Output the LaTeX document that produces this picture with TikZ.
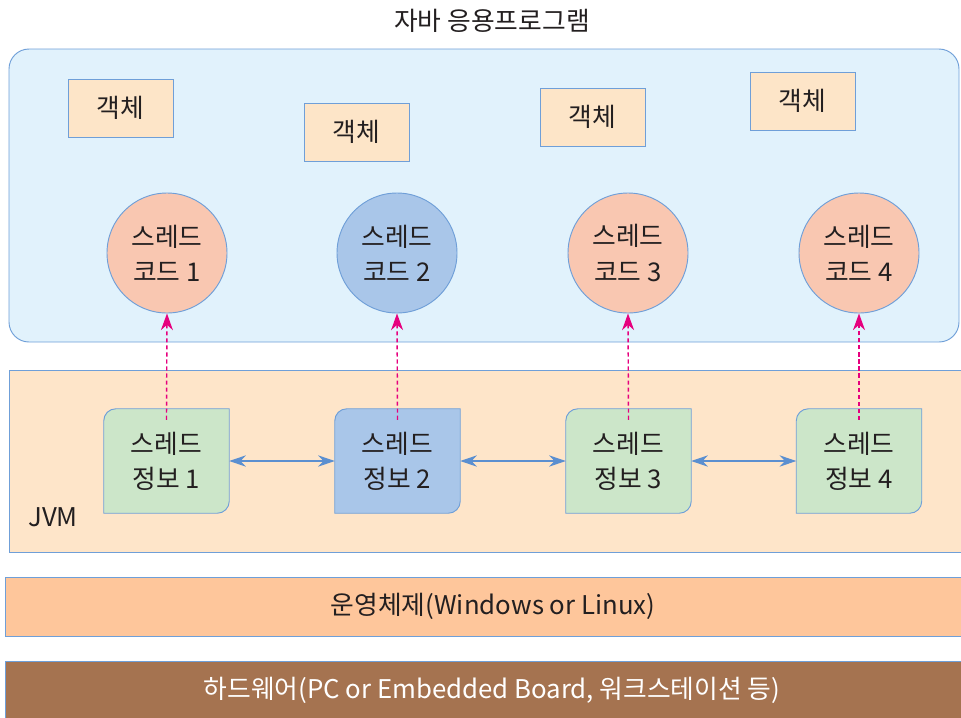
\documentclass[tikz,border=0pt]{standalone}
\usepackage{fontspec}
\setmainfont{Noto Sans CJK KR}
\usetikzlibrary{arrows.meta, positioning, backgrounds}

\definecolor{txt}{HTML}{231F20}
\definecolor{edge}{HTML}{6F9FD8}
\definecolor{appfill}{HTML}{E1F2FC}
\definecolor{objfill}{HTML}{FDE5C8}
\definecolor{codefill}{HTML}{F9C7B1}
\definecolor{blueish}{HTML}{A9C6E9}
\definecolor{infofill}{HTML}{CCE6C9}
\definecolor{jvmfill}{HTML}{FEE5C9}
\definecolor{osfill}{HTML}{FEC69B}
\definecolor{hwfill}{HTML}{A57350}
\definecolor{mag}{HTML}{E6007E}
\definecolor{linkcol}{HTML}{5B8FD0}

\begin{document}
\begin{tikzpicture}[
    x=0.03cm, y=-0.03cm,
    every node/.style={text=txt, font=\fontsize{22}{30}\selectfont},
    obj/.style={rectangle, draw=edge, fill=objfill, line width=0.8pt,
      minimum width=3.15cm, minimum height=1.74cm},
    code/.style={circle, draw=edge, fill=codefill, line width=0.8pt,
      minimum size=3.6cm, inner sep=0pt, align=center},
    info/.style={rectangle, minimum width=3.75cm, minimum height=3.12cm,
      inner sep=0pt, align=center},
    call/.style={-{Stealth[length=5mm, width=3.6mm, inset=1.6mm]}, draw=mag,
      line width=1.2pt, dash pattern=on 3.5pt off 2.5pt},
    link/.style={{Stealth[length=5mm, width=3.4mm, inset=1.6mm]}-{Stealth[length=5mm, width=3.4mm, inset=1.6mm]},
      draw=linkcol, line width=1pt}
  ]
    \useasboundingbox (0,0) rectangle (961,717);

    % layers
    \begin{scope}[on background layer]
      \draw[edge, fill=appfill, line width=0.8pt, rounded corners=6mm] (9,49) rectangle (959,342);
      \draw[edge, fill=jvmfill, line width=0.8pt] (9,370) rectangle (980,552);
      \draw[edge, fill=osfill, line width=0.8pt] (5,577) rectangle (980,636);
      \draw[edge, fill=hwfill, line width=0.8pt] (5,661) rectangle (980,730);
    \end{scope}

    % labels
    \node (title) at (492,21) {자바 응용프로그램};
    \node (jvm) at (53,517) {JVM};
    \node (os) at (493,606) {운영체제(Windows or Linux)};
    \node[text=white] (hw) at (492,690) {하드웨어(PC or Embedded Board, 워크스테이션 등)};

    % objects
    \node[obj] (o1) at (120.5,108) {객체};
    \node[obj] (o2) at (356.5,132) {객체};
    \node[obj] (o3) at (592.5,117) {객체};
    \node[obj] (o4) at (802.5,101) {객체};

    % thread code
    \node[code] (c1) at (167,253) {스레드\\코드 1};
    \node[code, fill=blueish] (c2) at (397,253) {스레드\\코드 2};
    \node[code] (c3) at (628,253) {스레드\\코드 3};
    \node[code] (c4) at (859,253) {스레드\\코드 4};

    % thread info
    \node[info] (i1) at (166.5,461) {스레드\\정보 1};
    \node[info] (i2) at (397.5,461) {스레드\\정보 2};
    \node[info] (i3) at (628.5,461) {스레드\\정보 3};
    \node[info] (i4) at (859,461) {스레드\\정보 4};

    \begin{scope}[on background layer]
      \foreach \n/\c in {i1/infofill, i2/blueish, i3/infofill, i4/infofill}
        \draw[edge, fill=\c, line width=0.8pt]
          (\n.south west) -- ([yshift=-3.6mm]\n.north west)
          arc[start angle=180, end angle=90, radius=3.6mm]
          -- (\n.north east) -- ([yshift=3.6mm]\n.south east)
          arc[start angle=0, end angle=-90, radius=3.6mm] -- cycle;
    \end{scope}

    % links
    \draw[link] (i1) -- (i2);
    \draw[link] (i2) -- (i3);
    \draw[link] (i3) -- (i4);

    \foreach \k in {1,...,4}
      \draw[call] ([yshift=-3.3mm]i\k.north) -- (c\k.south);
  \end{tikzpicture}
\end{document}
